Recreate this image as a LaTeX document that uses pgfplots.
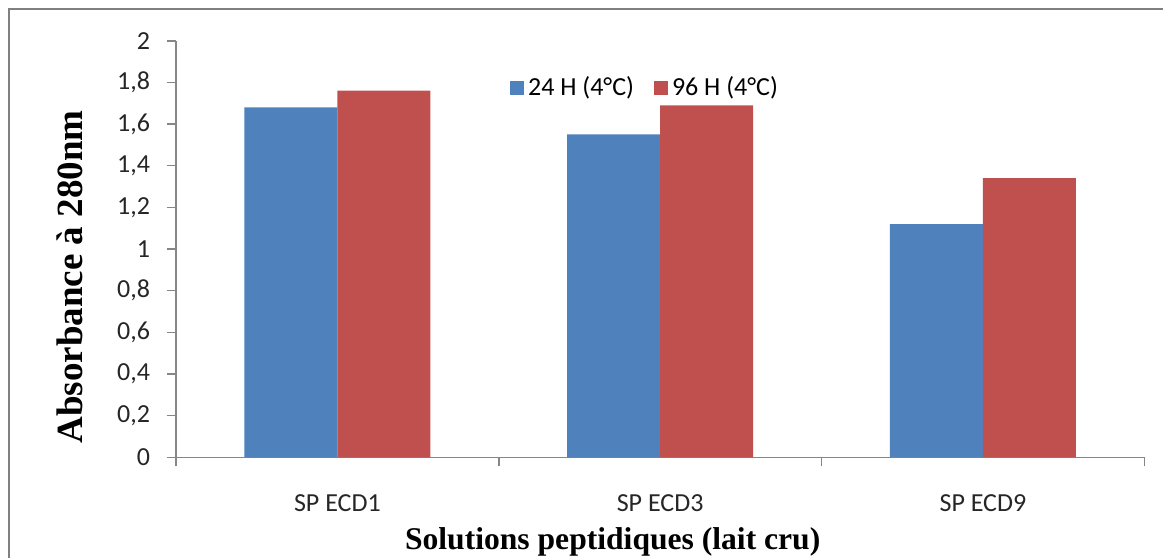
\documentclass[border=0pt]{standalone}
\usepackage{pgfplots}
\pgfplotsset{compat=1.18}
\usepackage{fontspec}
\setmainfont{Carlito}
\newfontfamily\labelfont{Liberation Serif}

\definecolor{barblue}{RGB}{79,129,189}
\definecolor{barred}{RGB}{192,80,77}
\definecolor{axisgray}{RGB}{134,134,134}
\definecolor{framegray}{RGB}{128,128,128}

\begin{document}
\begin{tikzpicture}
\useasboundingbox (0,0) rectangle (581.5pt,279pt);
% chart area border (left and top edges)
\draw[framegray, line width=1.2pt] (4.5pt,0) -- (4.5pt,274.5pt) -- (581.5pt,274.5pt);
\begin{axis}[
  at={(88pt,50.35pt)}, anchor=south west,
  scale only axis,
  width=484.15pt, height=208.3pt,
  xmin=-0.5, xmax=2.5,
  ymin=0, ymax=2,
  axis lines=left,
  axis line style={-, draw=axisgray, line width=0.8pt},
  tick style={draw=axisgray, line width=0.8pt},
  tick align=outside,
  major tick length=4.5pt,
  xtick={-0.5,0.5,1.5,2.5},
  x tick label as interval,
  xticklabels={SP ECD1, SP ECD3, SP ECD9},
  ytick={0,0.2,0.4,0.6,0.8,1,1.2,1.4,1.6,1.8,2},
  /pgf/number format/.cd, use comma, assume math mode=true,
  /pgfplots/.cd,
  ticklabel style={font=\fontsize{13}{15.5}\selectfont, text=black!85},
  xticklabel style={anchor=north, yshift=-10.5pt},
  yticklabel style={anchor=east, xshift=-5pt},
  xlabel={Solutions peptidiques (lait cru)},
  ylabel={Absorbance à 280nm},
  xlabel style={font=\labelfont\bfseries\fontsize{15.8}{18}\selectfont,
    at={(axis description cs:0.451,-0.2225)}, anchor=base},
  ylabel style={font=\labelfont\bfseries\fontsize{18.5}{21}\selectfont,
    at={(axis description cs:-0.1095,0.433)}, anchor=center},
  legend style={at={(axis description cs:0.4854,0.8865)}, anchor=center,
    draw=none, fill=none, font=\fontsize{13}{15.5}\selectfont,
    legend columns=2, inner sep=0pt,
    /tikz/every even column/.append style={column sep=8pt}},
  legend image code/.code={\fill[#1] (0pt,-3.5pt) rectangle (7pt,3.5pt);},
]
\addplot[ybar, bar width=0.288, bar shift=-0.144, fill=barblue, draw=none]
  coordinates {(0,1.68) (1,1.55) (2,1.12)};
\addlegendentry{24 H (4°C)}
\addplot[ybar, bar width=0.288, bar shift=0.144, fill=barred, draw=none]
  coordinates {(0,1.76) (1,1.69) (2,1.34)};
\addlegendentry{96 H (4°C)}
\end{axis}
\end{tikzpicture}
\end{document}
